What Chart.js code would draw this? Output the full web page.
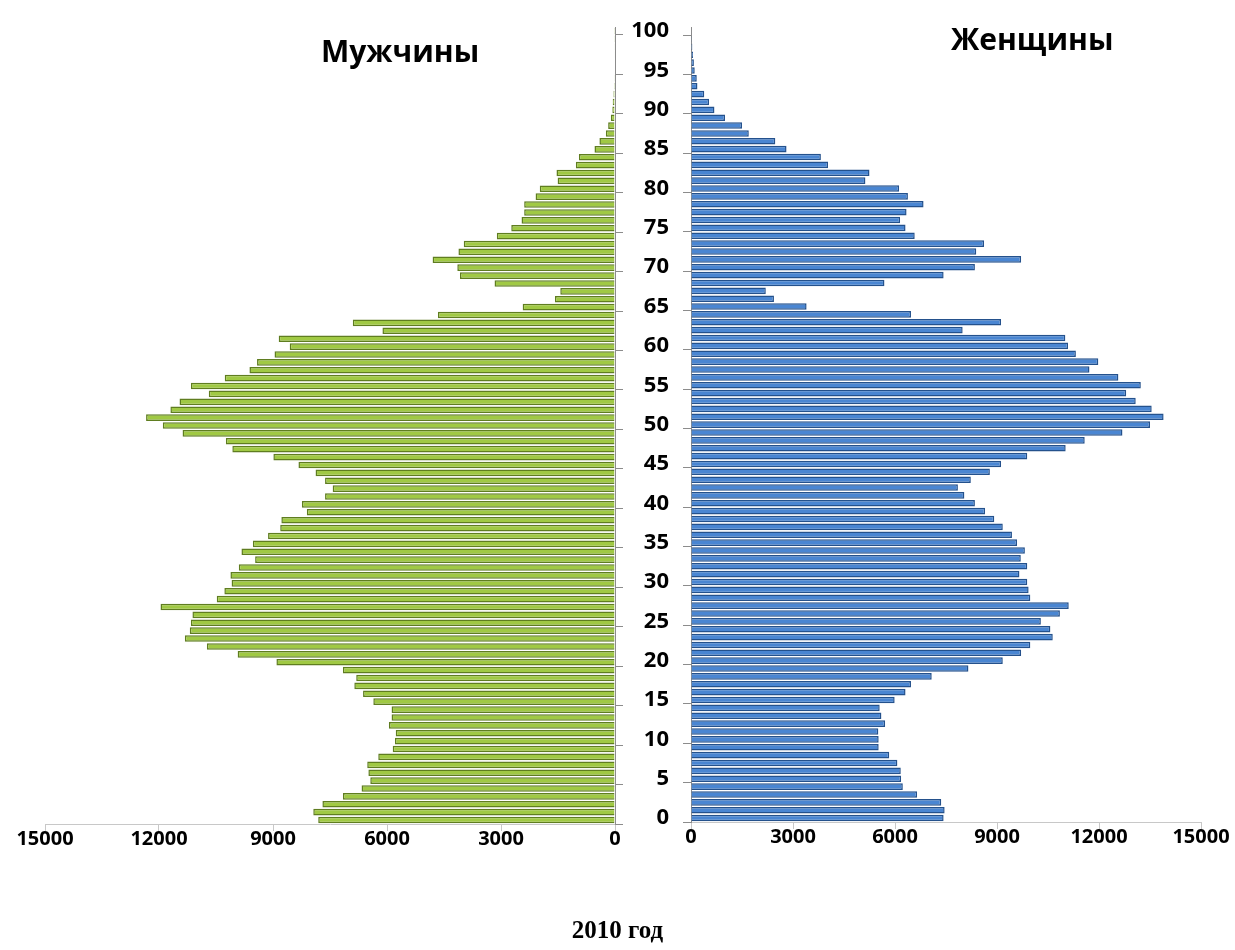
<!DOCTYPE html>
<html>
<head>
<meta charset="utf-8">
<script src="https://cdn.jsdelivr.net/npm/chart.js@4.4.1/dist/chart.umd.min.js"></script>
<style>
    body { margin: 0; background: #fff; }
    #wrap { position: relative; width: 1235px; height: 950px; overflow: hidden; }
    #menChartCanvas { position: absolute; left: 0; top: 0; }
    #womenChartCanvas { position: absolute; left: 600px; top: 0; }
    .title {
        position: absolute;
        font-family: 'Open Sans', sans-serif;
        font-weight: 700;
        font-size: 30px;
        color: #000;
        white-space: nowrap;
    }
    #menTitle { left: 321px; top: 30px; }
    #womenTitle { left: 951px; top: 18px; }
    #caption {
        position: absolute;
        left: 0; width: 1235px; top: 916px;
        text-align: center;
        font-family: 'Liberation Serif', serif;
        font-weight: bold;
        font-size: 25px;
    }
</style>
</head>
<body>
<div id="wrap">
    <canvas id="menChartCanvas" width="640" height="950"></canvas>
    <canvas id="womenChartCanvas" width="635" height="950"></canvas>
    <div class="title" id="menTitle">Мужчины</div>
    <div class="title" id="womenTitle">Женщины</div>
    <div id="caption">2010 год</div>
</div>
<script>
const ages = ['0', '1', '2', '3', '4', '5', '6', '7', '8', '9',
    '10', '11', '12', '13', '14', '15', '16', '17', '18', '19',
    '20', '21', '22', '23', '24', '25', '26', '27', '28', '29',
    '30', '31', '32', '33', '34', '35', '36', '37', '38', '39',
    '40', '41', '42', '43', '44', '45', '46', '47', '48', '49',
    '50', '51', '52', '53', '54', '55', '56', '57', '58', '59',
    '60', '61', '62', '63', '64', '65', '66', '67', '68', '69',
    '70', '71', '72', '73', '74', '75', '76', '77', '78', '79',
    '80', '81', '82', '83', '84', '85', '86', '87', '88', '89',
    '90', '91', '92', '93', '94', '95', '96', '97', '98', '99', '100'];

// шкала возраста подписана через каждые 5 лет
const ageTickLabels = ['0', '5', '10', '15', '20', '25', '30', '35', '40', '45', '50',
    '55', '60', '65', '70', '75', '80', '85', '90', '95', '100'];

const valueTicks = [0, 3000, 6000, 9000, 12000, 15000];

const men = [7810, 7940, 7700, 7160, 6670, 6440, 6490, 6520, 6230, 5850,
    5790, 5770, 5950, 5880, 5880, 6360, 6630, 6860, 6810, 7160,
    8910, 9930, 10740, 11320, 11190, 11160, 11120, 11960, 10480, 10280,
    10090, 10120, 9900, 9470, 9830, 9530, 9130, 8810, 8780, 8110,
    8240, 7630, 7430, 7630, 7880, 8330, 8990, 10070, 10240, 11380,
    11900, 12340, 11700, 11460, 10690, 11160, 10270, 9620, 9420, 8960,
    8560, 8850, 6120, 6900, 4660, 2430, 1580, 1440, 3170, 4080,
    4150, 4800, 4120, 3980, 3110, 2730, 2460, 2390, 2390, 2090,
    1980, 1510, 1540, 1030, 950, 540, 410, 240, 180, 110,
    70, 60, 40, 25, 20, 15, 12, 10, 8, 5, 3];

const women = [7430, 7460, 7360, 6650, 6230, 6180, 6170, 6070, 5830, 5520,
    5520, 5510, 5710, 5600, 5550, 5990, 6310, 6470, 7080, 8160,
    9170, 9710, 9980, 10640, 10570, 10290, 10850, 11110, 9980, 9930,
    9890, 9660, 9890, 9700, 9820, 9590, 9440, 9170, 8920, 8650,
    8350, 8040, 7850, 8230, 8790, 9120, 9890, 11020, 11580, 12690,
    13500, 13900, 13550, 13080, 12800, 13230, 12570, 11720, 11980, 11320,
    11090, 11010, 7990, 9120, 6470, 3400, 2440, 2200, 5690, 7430,
    8350, 9710, 8390, 8620, 6580, 6310, 6150, 6340, 6840, 6380,
    6120, 5130, 5250, 4030, 3820, 2810, 2480, 1700, 1500, 1000,
    690, 530, 390, 190, 170, 110, 85, 60, 40, 25, 12];

const valueFont = { family: 'Open Sans', size: 20, weight: 'bold' };
const ageFont = { family: 'Open Sans', size: 22, weight: 'bold' };

function ageTickColor(ctx) {
    return ageTickLabels.includes(ages[ctx.index]) ? '#8c8c8c' : 'rgba(0,0,0,0)';
}

function valueAxis(reverse) {
    return {
        type: 'linear',
        reverse: reverse,
        min: 0,
        max: 15000,
        afterBuildTicks: scale => { scale.ticks = valueTicks.map(v => ({ value: v })); },
        afterFit: scale => { scale.height = 40; },
        grid: { drawOnChartArea: false, drawTicks: true, tickLength: 7, color: '#c8c8c8' },
        border: { display: true, color: '#c8c8c8' },
        ticks: { font: valueFont, color: '#000', padding: -4, callback: v => String(v) }
    };
}

const menChartConfig = {
    type: 'bar',
    data: {
        labels: ages,
        datasets: [{
            label: 'Мужчины',
            data: men,
            backgroundColor: '#a0c944',
            borderColor: '#5f7d20',
            borderWidth: 1.5,
            barPercentage: 0.84,
            categoryPercentage: 1
        }]
    },
    options: {
        indexAxis: 'y',
        responsive: false,
        animation: false,
        layout: { padding: { left: 45, right: 0, top: 27, bottom: 86 } },
        plugins: { legend: { display: false }, tooltip: { enabled: false } },
        scales: {
            x: valueAxis(true),
            y: {
                position: 'right',
                reverse: true,
                afterFit: scale => { scale.width = 25; },
                grid: { drawOnChartArea: false, tickLength: 8, color: ageTickColor },
                border: { display: true, color: '#8c8c8c' },
                ticks: { display: false, autoSkip: false }
            }
        }
    }
};

const womenChartConfig = {
    type: 'bar',
    data: {
        labels: ages,
        datasets: [{
            label: 'Женщины',
            data: women,
            backgroundColor: '#4a86d2',
            borderColor: '#24518c',
            borderWidth: 1.5,
            barPercentage: 0.84,
            categoryPercentage: 1
        }]
    },
    options: {
        indexAxis: 'y',
        responsive: false,
        animation: false,
        layout: { padding: { left: 0, right: 34, top: 22, bottom: 88 } },
        plugins: { legend: { display: false }, tooltip: { enabled: false } },
        scales: {
            x: valueAxis(false),
            y: {
                position: 'left',
                reverse: true,
                afterFit: scale => { scale.width = 91; },
                grid: { drawOnChartArea: false, tickLength: 8, color: ageTickColor },
                border: { display: true, color: '#8c8c8c' },
                ticks: {
                    autoSkip: false,
                    font: ageFont,
                    color: '#000',
                    padding: 14,
                    callback: (v, i) => ageTickLabels.includes(ages[i]) ? ages[i] : ''
                }
            }
        }
    }
};

const menChart = new Chart(document.getElementById('menChartCanvas').getContext('2d'), menChartConfig);
const womenChart = new Chart(document.getElementById('womenChartCanvas').getContext('2d'), womenChartConfig);
</script>
</body>
</html>
